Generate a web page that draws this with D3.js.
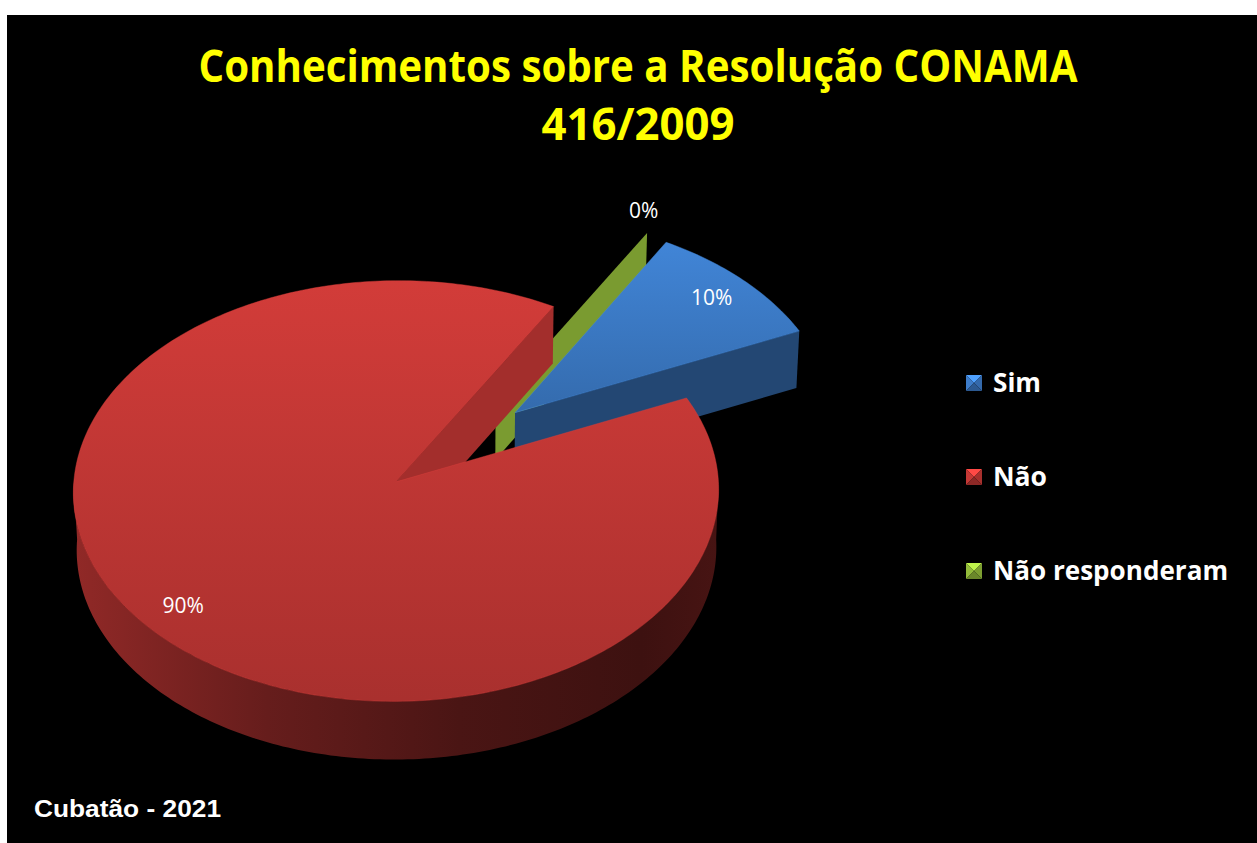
<!DOCTYPE html>
<meta charset="utf-8">
<style>
body { margin: 0; background: #fff; }
svg { display: block; }
</style>
<body>
<div id="chart"></div>
<script src="https://d3js.org/d3.v7.min.js"></script>
<script>

// data
const categories = ["Sim", "Não", "Não responderam"];
const values = [10, 90, 0];
const colors = ["#3d7cc9", "#c43835", "#93bb3a"];
const titleLines = ["Conhecimentos sobre a Resolução CONAMA", "416/2009"];
const footer = "Cubatão - 2021";

const width = 1257, height = 843;

// 3d pie setup (unit radius, tilted, mild perspective)
const cx = 456, cy = 447;          // projected pie origin
const S = 320;                     // px per unit radius at origin depth
const tilt = 40.3 * Math.PI / 180;
const sinT = Math.sin(tilt), cosT = Math.cos(tilt);
const D = 17.7;                    // camera distance
const thick = 0.2375;              // pie height
const explode = 0.25;
const start = 30 * Math.PI / 180;

function proj(x, y, z) {
  const d = D + z * cosT - y * sinT;
  const k = S * D / d;
  return [cx + x * k, cy - (y * cosT + z * sinT) * k];
}

const total = d3.sum(values);
const pct = d3.format(".0%");

const pie = d3.pie()
  .sort(null)
  .value(d => d.value)
  .startAngle(start)
  .endAngle(start + 2 * Math.PI);

const arcs = pie(categories.map((c, i) => ({name: c, value: values[i], color: colors[i]})));

arcs.forEach(a => {
  const mid = (a.startAngle + a.endAngle) / 2;
  a.mid = mid;
  a.ox = explode * Math.sin(mid);
  a.oz = explode * Math.cos(mid);
});

function arcPts(a, t0, t1, y) {
  const n = Math.max(2, Math.ceil((t1 - t0) * 60));
  return d3.range(n + 1).map(i => {
    const t = t0 + (t1 - t0) * i / n;
    return proj(a.ox + Math.sin(t), y, a.oz + Math.cos(t));
  });
}

function shade(col, f) {
  const c = d3.rgb(col);
  return d3.rgb(c.r * f, c.g * f, c.b * f).formatHex();
}

const line = d3.line();

const svg = d3.select("#chart").append("svg")
  .attr("width", width)
  .attr("height", height);

svg.append("rect")
  .attr("x", 7).attr("y", 15)
  .attr("width", width - 7).attr("height", height - 15)
  .attr("fill", "#000");

const defs = svg.append("defs");

// collect side faces
const sides = [];
arcs.forEach((a, i) => {
  [[a.startAngle, a.startAngle - Math.PI / 2], [a.endAngle, a.endAngle + Math.PI / 2]].forEach(([t, psi]) => {
    if (Math.cos(psi) >= 0) return;
    const pts = [
      proj(a.ox, 0, a.oz),
      proj(a.ox + Math.sin(t), 0, a.oz + Math.cos(t)),
      proj(a.ox + Math.sin(t), -thick, a.oz + Math.cos(t)),
      proj(a.ox, -thick, a.oz)
    ];
    const f = 0.34 + 0.566 * Math.cos(psi - Math.PI / 2);
    sides.push({pts, depth: a.oz + 0.5 * Math.cos(t), fill: shade(a.data.color, f)});
  });
  // outer rim, front half only
  [0, 2 * Math.PI].forEach(off => {
    const t0 = Math.max(a.startAngle, Math.PI / 2 + off);
    const t1 = Math.min(a.endAngle, 3 * Math.PI / 2 + off);
    if (t1 - t0 <= 0.001) return;
    const top = arcPts(a, t0, t1, 0);
    const bot = arcPts(a, t0, t1, -thick).reverse();
    const pts = top.concat(bot);
    const xs = d3.extent(pts, p => p[0]);
    const id = "rim" + i + "_" + off.toFixed(0);
    const g = defs.append("linearGradient").attr("id", id)
      .attr("gradientUnits", "userSpaceOnUse")
      .attr("x1", xs[0]).attr("x2", xs[1]).attr("y1", 0).attr("y2", 0);
    [[0, 0.74], [0.3, 0.52], [0.6, 0.38], [0.88, 0.31], [1, 0.36]].forEach(([o, f]) => {
      g.append("stop").attr("offset", o).attr("stop-color", shade(a.data.color, f));
    });
    sides.push({pts, depth: a.oz - 0.6, fill: `url(#${id})`});
  });
});

sides.sort((p, q) => q.depth - p.depth);

svg.append("g")
  .selectAll("path")
  .data(sides)
  .join("path")
    .attr("d", d => line(d.pts) + "Z")
    .attr("fill", d => d.fill);

// top faces
const tops = arcs.filter(a => a.endAngle - a.startAngle > 0.001);
tops.forEach((a, i) => {
  const pts = [proj(a.ox, 0, a.oz)].concat(arcPts(a, a.startAngle, a.endAngle, 0));
  a.topPts = pts;
  const ys = d3.extent(pts, p => p[1]);
  const g = defs.append("linearGradient").attr("id", "top" + i)
    .attr("gradientUnits", "userSpaceOnUse")
    .attr("x1", 0).attr("x2", 0).attr("y1", ys[0]).attr("y2", ys[1]);
  g.append("stop").attr("offset", 0).attr("stop-color", shade(a.data.color, 1.07));
  g.append("stop").attr("offset", 1).attr("stop-color", shade(a.data.color, 0.86));
  a.topFill = `url(#top${i})`;
});

svg.append("g")
  .selectAll("path")
  .data(tops.sort((p, q) => q.oz - p.oz))
  .join("path")
    .attr("d", d => line(d.topPts) + "Z")
    .attr("fill", d => d.topFill)
    .attr("stroke", d => shade(d.data.color, 1.12))
    .attr("stroke-width", 0.8)
    .attr("stroke-opacity", 0.5);

// data labels
svg.append("g")
  .selectAll("text")
  .data(arcs)
  .join("text")
    .each(function(d) {
      const r = d.value === 0 ? 1.1 : 0.86;
      const t = d.value === 0 ? d.mid - 0.06 : d.mid;
      const p = proj(d.ox + r * Math.sin(t), 0, d.oz + r * Math.cos(t));
      d3.select(this).attr("x", p[0]).attr("y", p[1] + 7);
    })
    .attr("text-anchor", "middle")
    .attr("font-family", "'Open Sans', sans-serif")
    .attr("font-size", "21px")
    .attr("fill", "#fff")
    .text(d => pct(d.value / total));

// title
svg.append("g")
  .selectAll("text")
  .data(titleLines)
  .join("text")
    .attr("x", 638)
    .attr("y", (d, i) => 82 + i * 58)
    .attr("text-anchor", "middle")
    .attr("font-family", "'Open Sans', sans-serif")
    .attr("font-weight", "bold")
    .attr("font-size", "44px")
    .attr("fill", "#ffff00")
    .attr("textLength", (d, i) => i === 0 ? 879 : 193)
    .attr("lengthAdjust", "spacingAndGlyphs")
    .text(d => d);

// legend
const ly = d3.scalePoint().domain(categories).range([392, 580]);
const legend = svg.append("g")
  .selectAll("g")
  .data(arcs)
  .join("g")
    .attr("transform", d => `translate(966,${ly(d.data.name)})`);

const m = 16;
const tri = [
  [[0, 0], [m, 0], [m / 2, m / 2], 1.3],
  [[0, 0], [0, m], [m / 2, m / 2], 1.0],
  [[m, 0], [m, m], [m / 2, m / 2], 0.85],
  [[0, m], [m, m], [m / 2, m / 2], 0.72]
];
legend.each(function(d) {
  const g = d3.select(this).append("g").attr("transform", `translate(0,${-m - 1})`);
  tri.forEach(t => {
    g.append("path")
      .attr("d", line(t.slice(0, 3)) + "Z")
      .attr("fill", shade(d.data.color, t[3]));
  });
});

const legendW = {"Sim": 48, "Não": 54, "Não responderam": 235};
legend.append("text")
  .attr("x", 27)
  .attr("y", 0)
  .attr("font-family", "'Open Sans', sans-serif")
  .attr("font-weight", "bold")
  .attr("font-size", "27px")
  .attr("fill", "#fff")
  .attr("textLength", d => legendW[d.data.name])
  .attr("lengthAdjust", "spacingAndGlyphs")
  .text(d => d.data.name);

// footer
svg.append("text")
  .attr("x", 34)
  .attr("y", 817)
  .attr("font-family", "'Liberation Sans', Arial, sans-serif")
  .attr("font-weight", "bold")
  .attr("font-size", "24px")
  .attr("fill", "#fff")
  .attr("textLength", 187)
  .attr("lengthAdjust", "spacingAndGlyphs")
  .text(footer);

</script>
